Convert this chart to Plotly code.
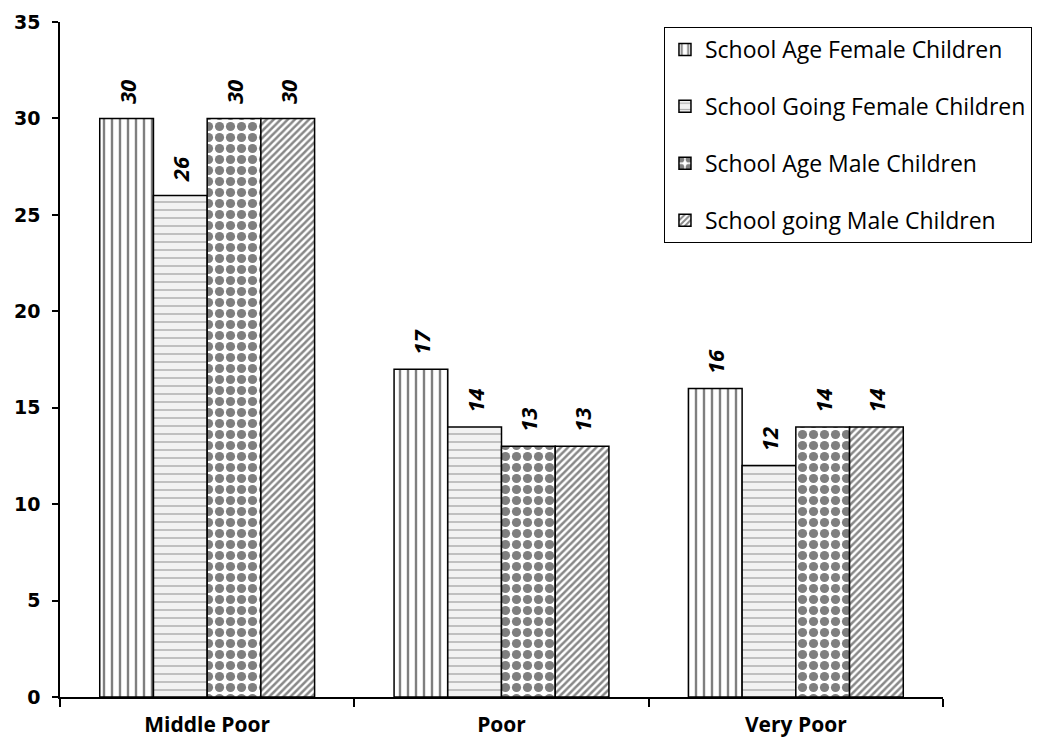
import plotly.graph_objects as go

# Poverty categories and child counts per series
categories = ["Middle Poor", "Poor", "Very Poor"]
series_names = [
    "School Age Female Children",
    "School Going Female Children",
    "School Age Male Children",
    "School going Male Children",
]
age_female = [30, 17, 16]
going_female = [26, 14, 12]
age_male = [30, 13, 14]
going_male = [30, 13, 14]
y_ticks = [0, 5, 10, 15, 20, 25, 30, 35]

values = [age_female, going_female, age_male, going_male]

# Hatch style for each series
patterns = [
    dict(shape="|", fgcolor="#000000", bgcolor="white", size=8, solidity=0.3),
    dict(shape="-", fgcolor="#666666", bgcolor="#f2f2f2", size=8, solidity=0.18),
    dict(shape=".", fgcolor="#000000", bgcolor="white", size=11, solidity=0.55),
    dict(shape="/", fgcolor="#111111", bgcolor="white", size=5, solidity=0.5),
]

fig = go.Figure()
for i, (name, vals, pat) in enumerate(zip(series_names, values, patterns)):
    fig.add_trace(go.Bar(
        x=categories,
        y=vals,
        name=name,
        legendgroup=f"g{i}",
        marker=dict(color="white", pattern=pat,
                    line=dict(color="black", width=1.5)),
        texttemplate="\u00a0\u00a0%{y}",
        textposition="outside",
        textangle=-90,
        constraintext="none",
        textfont=dict(family="Open Sans", size=22, color="black",
                      weight="bold", style="italic"),
        cliponaxis=False,
    ))

fig.update_layout(
    width=1046,
    height=746,
    paper_bgcolor="white",
    plot_bgcolor="white",
    margin=dict(l=60, r=103, t=22, b=49),
    barmode="group",
    bargap=0.27,
    bargroupgap=0,
    showlegend=True,
    legend=dict(
        x=0.684, y=0.9926, xanchor="left", yanchor="top",
        bordercolor="black", borderwidth=1, bgcolor="white",
        font=dict(family="Open Sans", size=23, color="black"),
        tracegroupgap=24,
        traceorder="grouped",
    ),
    xaxis=dict(
        automargin=False,
        showline=True, linecolor="black", linewidth=1.5,
        ticks="outside", tickson="boundaries", ticklen=8,
        tickcolor="black", tickwidth=1.5,
        ticklabelstandoff=8,
        tickfont=dict(family="Open Sans", size=21, color="black", weight="bold"),
        showgrid=False,
    ),
    yaxis=dict(
        automargin=False,
        range=[0, 35], tickvals=y_ticks,
        showline=True, linecolor="black", linewidth=1.5,
        ticks="outside", ticklen=6, tickcolor="black", tickwidth=1.5,
        ticklabelstandoff=8,
        tickfont=dict(family="DejaVu Sans", size=19, color="black", weight="bold"),
        showgrid=False, zeroline=False,
    ),
)

fig.write_html("out.html")
